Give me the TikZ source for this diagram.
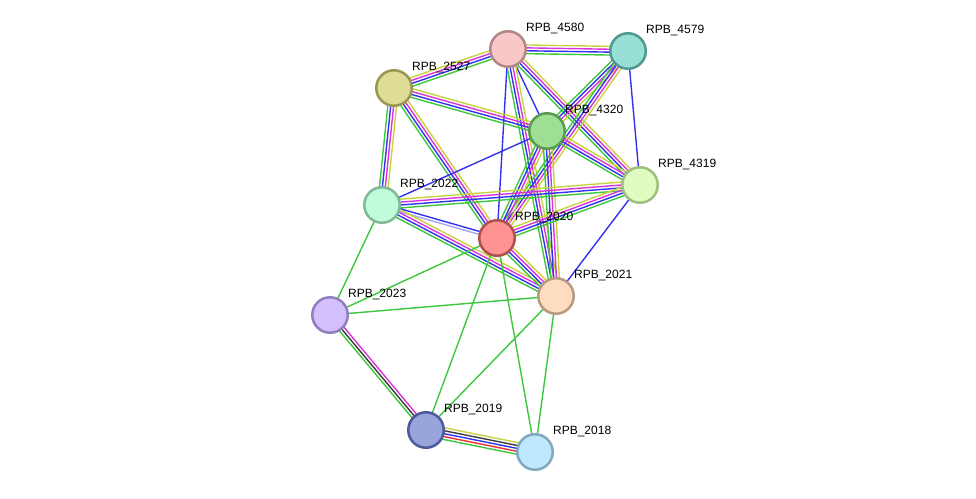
\documentclass[tikz,border=0pt]{standalone}
\usepackage{fontspec}
\setmainfont{Liberation Sans}
\usetikzlibrary{calc,positioning,backgrounds}
\definecolor{sgreen}{RGB}{60,200,60}
\definecolor{sblue}{RGB}{50,50,240}
\definecolor{smag}{RGB}{220,50,220}
\definecolor{syel}{RGB}{200,210,60}
\definecolor{sred}{RGB}{240,50,50}
\definecolor{sblack}{RGB}{60,60,60}
\definecolor{slav}{RGB}{165,165,250}
\newcommand{\bond}[4]{%
  \foreach \c [count=\i] in {#4}{
    \pgfmathsetmacro{\off}{(\i-(#3+1)/2)*2.9}
    \draw[link, \c] ($(#1.center)!\off pt!90:(#2.center)$) -- ($(#2.center)!\off pt!-90:(#1.center)$);
  }%
}
\begin{document}
\begin{tikzpicture}[x=1pt, y=1pt,
  prot/.style={circle, minimum size=35.5pt, line width=2.5pt, inner sep=0pt},
  tag/.style={font=\fontsize{12}{14}\selectfont, inner sep=1pt, above right=0.5pt and 3.5pt of #1},
  link/.style={line width=1.4pt}]
\useasboundingbox (0,0) rectangle (976,-498);
\node (n4580) [prot, fill={rgb,255:red,248;green,200;blue,200}, draw={rgb,255:red,180;green,135;blue,135}] at (508,-49) {};
\node (n4579) [prot, fill={rgb,255:red,152;green,224;blue,214}, draw={rgb,255:red,78;green,154;blue,147}] at (628,-51) {};
\node (n2527) [prot, fill={rgb,255:red,222;green,221;blue,152}, draw={rgb,255:red,153;green,152;blue,82}] at (394,-88) {};
\node (n4320) [prot, fill={rgb,255:red,158;green,223;blue,149}, draw={rgb,255:red,90;green,154;blue,82}] at (547,-131) {};
\node (n4319) [prot, fill={rgb,255:red,224;green,252;blue,192}, draw={rgb,255:red,160;green,190;blue,128}] at (640,-185) {};
\node (n2022) [prot, fill={rgb,255:red,192;green,252;blue,220}, draw={rgb,255:red,128;green,184;blue,152}] at (382,-205) {};
\node (n2020) [prot, fill={rgb,255:red,255;green,146;blue,146}, draw={rgb,255:red,176;green,80;blue,80}] at (497,-238) {};
\node (n2021) [prot, fill={rgb,255:red,253;green,220;blue,192}, draw={rgb,255:red,184;green,154;blue,128}] at (556,-296) {};
\node (n2023) [prot, fill={rgb,255:red,212;green,192;blue,252}, draw={rgb,255:red,144;green,128;blue,192}] at (330,-315) {};
\node (n2019) [prot, fill={rgb,255:red,152;green,164;blue,220}, draw={rgb,255:red,78;green,90;blue,152}] at (426,-430) {};
\node (n2018) [prot, fill={rgb,255:red,192;green,232;blue,252}, draw={rgb,255:red,128;green,168;blue,192}] at (535,-452) {};
\node (t4580) [tag=n4580] {RPB\_4580};
\node (t4579) [tag=n4579] {RPB\_4579};
\node (t2527) [tag=n2527] {RPB\_2527};
\node (t4320) [tag=n4320] {RPB\_4320};
\node (t4319) [tag=n4319] {RPB\_4319};
\node (t2022) [tag=n2022] {RPB\_2022};
\node (t2020) [tag=n2020] {RPB\_2020};
\node (t2021) [tag=n2021] {RPB\_2021};
\node (t2023) [tag=n2023] {RPB\_2023};
\node (t2019) [tag=n2019] {RPB\_2019};
\node (t2018) [tag=n2018] {RPB\_2018};
\begin{scope}[on background layer]
\bond{n4580}{n4579}{4}{sgreen,sblue,smag,syel}
\bond{n2527}{n4580}{4}{sgreen,sblue,smag,syel}
\bond{n4580}{n4320}{1}{sblue}
\bond{n4580}{n2020}{1}{sblue}
\bond{n4580}{n2021}{4}{sgreen,sblue,smag,syel}
\bond{n4580}{n4319}{4}{sgreen,sblue,smag,syel}
\bond{n4579}{n4320}{4}{sgreen,sblue,smag,syel}
\bond{n4579}{n2020}{4}{sgreen,sblue,smag,syel}
\bond{n4579}{n4319}{1}{sblue}
\bond{n2527}{n4320}{4}{sgreen,sblue,smag,syel}
\bond{n2527}{n2022}{4}{sgreen,sblue,smag,syel}
\bond{n2527}{n2020}{4}{sgreen,sblue,smag,syel}
\bond{n4320}{n2020}{4}{sgreen,sblue,smag,syel}
\bond{n4320}{n2021}{4}{sgreen,sblue,smag,syel}
\bond{n4320}{n4319}{4}{sgreen,sblue,smag,syel}
\bond{n2022}{n4320}{1}{sblue}
\bond{n2022}{n4319}{4}{sgreen,sblue,smag,syel}
\bond{n2020}{n4319}{4}{sgreen,sblue,smag,syel}
\bond{n4319}{n2021}{1}{sblue}
\bond{n2020}{n2022}{2}{sblue,slav}
\bond{n2022}{n2021}{4}{sgreen,sblue,smag,syel}
\bond{n2022}{n2023}{1}{sgreen}
\bond{n2020}{n2021}{4}{sgreen,sblue,smag,syel}
\bond{n2020}{n2023}{1}{sgreen}
\bond{n2020}{n2019}{1}{sgreen}
\bond{n2020}{n2018}{1}{sgreen}
\bond{n2021}{n2023}{1}{sgreen}
\bond{n2021}{n2019}{1}{sgreen}
\bond{n2021}{n2018}{1}{sgreen}
\bond{n2023}{n2019}{3}{sgreen,sblack,smag}
\bond{n2019}{n2018}{5}{sgreen,sred,sblue,sblack,syel}
\end{scope}
\end{tikzpicture}
\end{document}
